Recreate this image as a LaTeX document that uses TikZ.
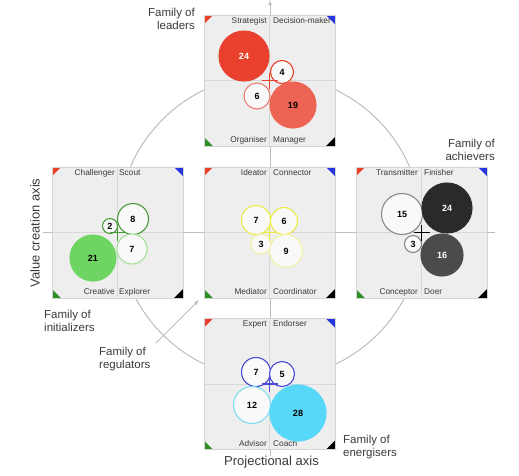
\documentclass[tikz,border=0pt]{standalone}
\usepackage{fontspec}
\setmainfont{Liberation Sans}
\definecolor{fondgris}{HTML}{EEEEEE}
\definecolor{bordgris}{HTML}{D4D4D4}
\definecolor{lignegris}{HTML}{D8D8D8}
\definecolor{axegris}{HTML}{BDBDBD}
\definecolor{texte}{HTML}{3A3A3A}
\definecolor{rouge}{HTML}{E9412D}
\definecolor{rougeclair}{HTML}{EE6454}
\definecolor{rougepale}{HTML}{EE7B72}
\definecolor{bleucoin}{HTML}{2436DC}
\definecolor{vertcoin}{HTML}{2F8F25}
\definecolor{vertfonce}{HTML}{4A9A3D}
\definecolor{vertclair}{HTML}{6ED563}
\definecolor{vertpale}{HTML}{A5DF98}
\definecolor{jaune}{HTML}{ECEA48}
\definecolor{jaunepale}{HTML}{F2F0A8}
\definecolor{grismoyen}{HTML}{888888}
\definecolor{noirun}{HTML}{2A2A2A}
\definecolor{noirdeux}{HTML}{4B4B4B}
\definecolor{bleuvif}{HTML}{4B49D6}
\definecolor{cyanpale}{HTML}{7DDCF2}
\definecolor{cyanvif}{HTML}{58D8F8}
\definecolor{blanc}{HTML}{F9F9F9}
\begin{document}
\begin{tikzpicture}[x=1pt, y=-1pt]
			\tikzset{carre/.style={rectangle, draw=bordgris, fill=fondgris, line width=0.6pt, minimum size=131pt, inner sep=0pt,
				path picture={
					\draw[lignegris, line width=0.9pt] (path picture bounding box.north) -- (path picture bounding box.south)
						(path picture bounding box.west) -- (path picture bounding box.east);
					\fill[rouge]    (path picture bounding box.north west) -- ++( 9,0) -- ++(-9, 9) -- cycle;
					\fill[bleucoin] (path picture bounding box.north east) -- ++(-9,0) -- ++( 9, 9) -- cycle;
					\fill[vertcoin] (path picture bounding box.south west) -- ++( 9,0) -- ++(-9,-9) -- cycle;
					\fill[black]    (path picture bounding box.south east) -- ++(-9,0) -- ++( 9,-9) -- cycle;}},
				bulle/.style={circle, inner sep=0pt, line width=1.1pt, fill=blanc, font=\fontsize{9}{9}\selectfont\bfseries},
				role/.style={inner sep=0pt, text=texte, font=\fontsize{8.3}{9}\selectfont},
				famille/.style={inner sep=0pt, text=texte, font=\fontsize{11.5}{13}\selectfont},
				axe/.style={inner sep=0pt, text=texte, font=\fontsize{13}{13}\selectfont},
				croix/.style={line width=1.5pt},
				fleche/.style={>=latex, ->, axegris, line width=0.8pt}};

			\useasboundingbox (0,0) rectangle (519,475);

			\coordinate (centre) at (270,227);
			\coordinate (haut)   at (270,  0);
			\coordinate (bas)    at (270,456);
			\coordinate (gauche) at ( 43,232);
			\coordinate (droite) at (495,232);
			\coordinate (rfin)   at (199,300);

			\draw[axegris, line width=1pt] (centre) circle (152);
			\draw[fleche] (bas) -- (haut);
			\draw[axegris, line width=1pt] (gauche) -- (droite);

			\node[carre] (ph) at (269.5, 80.5) {};
			\node[carre] (pg) at (117.5,232.5) {};
			\node[carre] (pc) at (269.5,232.5) {};
			\node[carre] (pd) at (421.5,232.5) {};
			\node[carre] (pb) at (269.5,384  ) {};

			\node[role, anchor=east] (r1)  at (267, 21) {Strategist};
			\node[role, anchor=west] (r2)  at (273, 21) {Decision-maker};
			\node[role, anchor=east] (r3)  at (267,140) {Organiser};
			\node[role, anchor=west] (r4)  at (273,140) {Manager};
			\node[role, anchor=east] (r5)  at (115,173) {Challenger};
			\node[role, anchor=west] (r6)  at (119,173) {Scout};
			\node[role, anchor=east] (r7)  at (115,292) {Creative};
			\node[role, anchor=west] (r8)  at (119,292) {Explorer};
			\node[role, anchor=east] (r9)  at (267,173) {Ideator};
			\node[role, anchor=west] (r10) at (273,173) {Connector};
			\node[role, anchor=east] (r11) at (267,292) {Mediator};
			\node[role, anchor=west] (r12) at (273,292) {Coordinator};
			\node[role, anchor=east] (r13) at (418,173) {Transmitter};
			\node[role, anchor=west] (r14) at (424,173) {Finisher};
			\node[role, anchor=east] (r15) at (418,292) {Conceptor};
			\node[role, anchor=west] (r16) at (424,292) {Doer};
			\node[role, anchor=east] (r17) at (267,324) {Expert};
			\node[role, anchor=west] (r18) at (273,324) {Endorser};
			\node[role, anchor=east] (r19) at (267,444) {Advisor};
			\node[role, anchor=west] (r20) at (273,444) {Coach};

			\node[bulle, draw=rouge, fill=rouge, text=white, minimum size=50pt] (h24) at (244, 56) {24};
			\node[bulle, draw=rouge,                         minimum size=23pt] (h4)  at (282, 72) {4};
			\node[bulle, draw=rougepale,                     minimum size=26pt] (h6)  at (257, 96) {6};
			\node[bulle, draw=rougeclair, fill=rougeclair,   minimum size=46pt] (h19) at (293,105) {19};
			\draw[croix, rouge] (ph.center) +(-8,0) -- +(8,0) +(0,-8) -- +(0,8);

			\node[bulle, draw=vertfonce,                     minimum size=15pt] (g2)  at (110,226) {2};
			\node[bulle, draw=vertfonce,                     minimum size=31pt] (g8)  at (133,219) {8};
			\node[bulle, draw=vertpale,                      minimum size=30pt] (g7)  at (132,249) {7};
			\node[bulle, draw=vertclair, fill=vertclair,     minimum size=46pt] (g21) at ( 93,258) {21};
			\draw[croix, vertfonce] (pg.center) +(-8,0) -- +(8,0) +(0,-8) -- +(0,8);

			\node[bulle, draw=jaune,                         minimum size=29pt] (c7)  at (256,220) {7};
			\node[bulle, draw=jaune,                         minimum size=27pt] (c6)  at (284,221) {6};
			\node[bulle, draw=jaunepale,                     minimum size=20pt] (c3)  at (261,244) {3};
			\node[bulle, draw=jaunepale,                     minimum size=33pt] (c9)  at (286,251) {9};
			\draw[croix, jaune] (pc.center) +(-8,0) -- +(8,0) +(0,-8) -- +(0,8);

			\node[bulle, draw=grismoyen,                     minimum size=41pt] (d15) at (402,214) {15};
			\node[bulle, draw=noirun, fill=noirun, text=white, minimum size=50pt] (d24) at (447,208) {24};
			\node[bulle, draw=grismoyen,                     minimum size=17pt] (d3)  at (413,244) {3};
			\node[bulle, draw=noirdeux, fill=noirdeux, text=white, minimum size=42pt] (d16) at (442,255) {16};
			\draw[croix, black] (pd.center) +(-8,0) -- +(8,0) +(0,-8) -- +(0,8);

			\node[bulle, draw=bleuvif,                       minimum size=29pt] (b7)  at (256,372) {7};
			\node[bulle, draw=bleuvif,                       minimum size=25pt] (b5)  at (282,374) {5};
			\node[bulle, draw=cyanpale,                      minimum size=37pt] (b12) at (252,405) {12};
			\node[bulle, draw=cyanvif, fill=cyanvif,         minimum size=56pt] (b28) at (298,413) {28};
			\draw[croix, bleuvif] (pb.center) +(-8,0) -- +(8,0) +(0,-8) -- +(0,8);

			\node[famille, align=right, anchor=east] (fl) at (195, 18.5) {Family of\\leaders};
			\node[famille, align=right, anchor=east] (fa) at (495,149.5) {Family of\\achievers};
			\node[famille, align=left,  anchor=west] (fi) at ( 44,321  ) {Family of\\initializers};
			\node[famille, align=left,  anchor=west] (fr) at ( 99,359.5) {Family of\\regulators};
			\node[famille, align=left,  anchor=west] (fe) at (343,447.5) {Family of\\energisers};
			\node[axe, rotate=90] (av) at ( 35,233) {Value creation axis};
			\node[axe]            (ap) at (271.5,462.5) {Projectional axis};

			\draw[fleche] ([shift={(5,-4)}]fr.north east) -- (rfin);

		\end{tikzpicture}
\end{document}
